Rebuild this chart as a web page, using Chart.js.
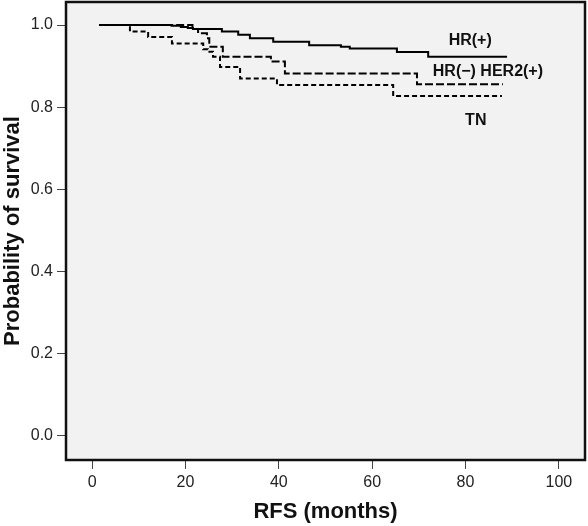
<!DOCTYPE html>
<html>
<head>
<meta charset="utf-8">
<script src="https://cdn.jsdelivr.net/npm/chart.js@4/dist/chart.umd.min.js"></script>
<style>
  html, body { margin: 0; padding: 0; background: #fff; }
</style>
</head>
<body>
<canvas id="km" width="588" height="526"></canvas>
<script>
// Kaplan-Meier curves (months, survival)
const hrPosMonths = [1.5, 15, 17, 19, 20.5, 21.6, 27.8, 31.3, 33.8, 38.8, 46.5, 53.3, 55.2, 65.3, 72, 88.9];
const hrPosSurv   = [1.0, 1.0, 0.998, 0.995, 0.993, 0.990, 0.984, 0.976, 0.968, 0.959, 0.951, 0.947, 0.943, 0.934, 0.923, 0.923];

const her2Months = [1.5, 20, 21.5, 22.7, 24.6, 25.1, 28, 38.3, 41.3, 69.6, 88];
const her2Surv   = [1.0, 1.0, 0.990, 0.980, 0.968, 0.947, 0.923, 0.911, 0.882, 0.856, 0.856];

const tnMonths = [1.5, 8.1, 12, 17.1, 23.8, 24.8, 25.9, 27.4, 31.7, 39.6, 64.5, 87.8];
const tnSurv   = [1.0, 0.984, 0.971, 0.955, 0.941, 0.935, 0.923, 0.898, 0.870, 0.854, 0.827, 0.827];

const xTicks = [0, 20, 40, 60, 80, 100];
const yTicks = [0, 0.2, 0.4, 0.6, 0.8, 1.0];

// curve labels placed in data units
const labelText = ['HR(+)', 'HR(\u2212) HER2(+)', 'TN'];
const labelX = [81, 84.8, 82.2];
const labelY = [0.962, 0.887, 0.768];

const FONT = '"Liberation Sans", Arial, Helvetica, sans-serif';

const toPoints = (xs, ys) => xs.map((x, i) => ({ x: x, y: ys[i] }));

// grey panel behind the plot + black frame + curve labels
const panel = {
    id: 'panel',
    beforeDraw(chart) {
        const { ctx, chartArea: a } = chart;
        ctx.save();
        ctx.fillStyle = '#f2f2f2';
        ctx.fillRect(a.left, a.top, a.right - a.left, a.bottom - a.top);
        ctx.restore();
    },
    afterDraw(chart) {
        const { ctx, chartArea: a, scales } = chart;
        ctx.save();
        ctx.strokeStyle = '#111';
        ctx.lineWidth = 2.5;
        ctx.strokeRect(a.left, a.top, a.right - a.left, a.bottom - a.top);

        ctx.fillStyle = '#111';
        ctx.font = 'bold 16px ' + FONT;
        ctx.textAlign = 'center';
        ctx.textBaseline = 'middle';
        labelText.forEach((t, i) => {
            ctx.fillText(t, scales.x.getPixelForValue(labelX[i]), scales.y.getPixelForValue(labelY[i]));
        });
        ctx.restore();
    }
};

const line = (label, pts, dash) => ({
    label: label,
    data: pts,
    borderColor: '#000',
    borderWidth: 2,
    borderDash: dash,
    stepped: 'before',
    pointRadius: 0,
    fill: false,
});

new Chart(document.getElementById('km'), {
    type: 'line',
    data: {
        datasets: [
            line('HR(+)', toPoints(hrPosMonths, hrPosSurv), []),
            line('HR(-) HER2(+)', toPoints(her2Months, her2Surv), [8, 3]),
            line('TN', toPoints(tnMonths, tnSurv), [5, 3]),
        ],
    },
    options: {
        responsive: false,
        animation: false,
        layout: { padding: { top: 2, right: 3, left: 0, bottom: 0 } },
        plugins: {
            legend: { display: false },
            tooltip: { enabled: false },
        },
        scales: {
            x: {
                type: 'linear',
                min: -5.6,
                max: 105.6,
                afterBuildTicks: (s) => { s.ticks = xTicks.map(v => ({ value: v })); },
                afterFit: (s) => { s.height = 66; s.paddingLeft = 0; s.paddingRight = 0; },
                border: { display: false },
                grid: { drawOnChartArea: false, drawTicks: true, tickLength: 9, color: '#444' },
                ticks: {
                    padding: 4,
                    color: '#222',
                    font: { family: FONT, size: 16 },
                    maxRotation: 0,
                    callback: (v) => String(v),
                },
                title: {
                    display: true,
                    text: 'RFS (months)',
                    color: '#111',
                    font: { family: FONT, size: 22, weight: 'bold', lineHeight: 1.2 },
                    padding: { top: 0, bottom: 1 },
                },
            },
            y: {
                min: -0.059,
                max: 1.056,
                afterBuildTicks: (s) => { s.ticks = yTicks.map(v => ({ value: v })); },
                afterFit: (s) => { s.width = 66; s.paddingTop = 0; s.paddingBottom = 0; },
                border: { display: false },
                grid: { drawOnChartArea: false, drawTicks: true, tickLength: 9, color: '#444' },
                ticks: {
                    padding: 4,
                    color: '#222',
                    font: { family: FONT, size: 16 },
                    callback: (v) => v.toFixed(1),
                },
                title: {
                    display: true,
                    text: 'Probability of survival',
                    color: '#111',
                    font: { family: FONT, size: 22, weight: 'bold', lineHeight: 1.2 },
                    padding: { top: 0, bottom: 0 },
                },
            },
        },
    },
    plugins: [panel],
});
</script>
</body>
</html>
